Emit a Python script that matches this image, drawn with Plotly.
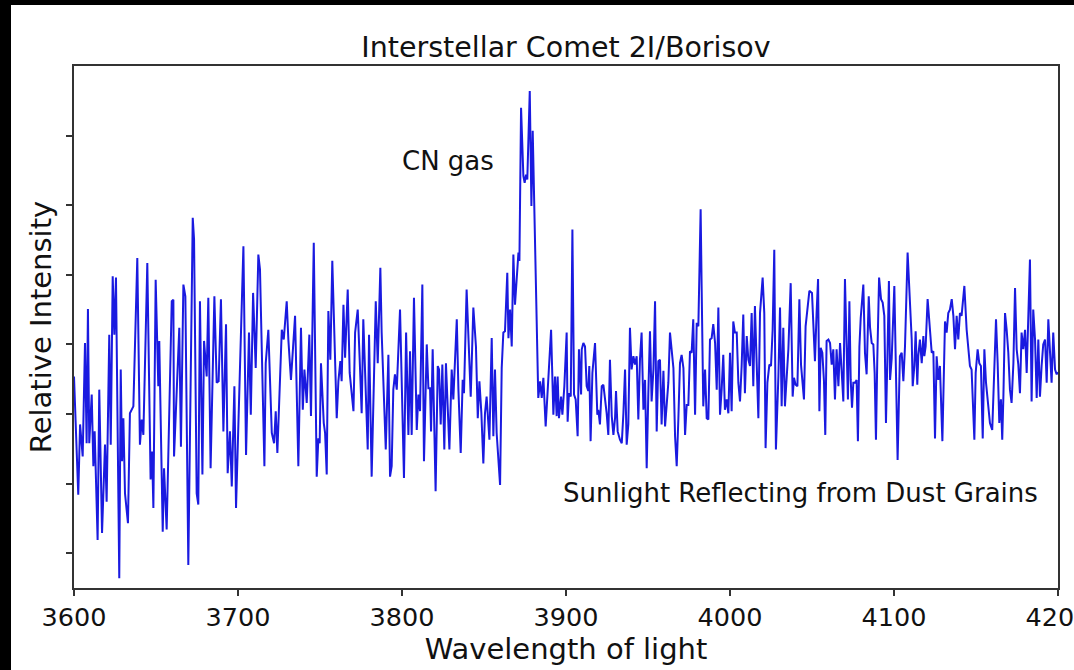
import plotly.graph_objects as go

# ---- data ----
wavelength = [
    3600.0, 3602.6, 3603.7, 3605.3, 3606.7, 3607.7, 3608.5, 3609.3, 3610.8, 3611.8,
    3612.6, 3614.4, 3615.4, 3617.1, 3618.9, 3619.9, 3621.5, 3622.4, 3623.6, 3624.6,
    3625.6, 3627.6, 3628.5, 3629.3, 3630.1, 3631.1, 3632.9, 3634.1, 3636.2, 3638.6,
    3640.2, 3641.3, 3642.3, 3644.7, 3646.7, 3647.6, 3648.4, 3649.8, 3651.4, 3652.0,
    3654.1, 3654.9, 3656.5, 3659.6, 3660.6, 3661.0, 3664.2, 3665.2, 3666.7, 3667.9,
    3669.7, 3672.4, 3673.2, 3674.8, 3675.8, 3676.8, 3678.3, 3679.3, 3680.9, 3681.9,
    3683.3, 3685.6, 3687.0, 3688.2, 3689.6, 3691.1, 3692.7, 3693.7,
    3695.1, 3696.2, 3697.8, 3698.8, 3703.3, 3704.9, 3706.7, 3707.8, 3709.2, 3710.8,
    3712.4, 3713.4, 3716.1, 3716.9, 3718.5, 3720.6, 3722.0, 3723.0, 3724.0, 3726.7,
    3727.9, 3729.7, 3730.7, 3732.3, 3734.8, 3736.8, 3738.4, 3739.5, 3740.5, 3741.9,
    3743.5, 3744.5, 3746.2, 3748.0, 3749.0, 3749.8, 3750.6, 3752.3, 3753.1, 3754.1,
    3755.1, 3756.3, 3757.5, 3758.8, 3760.2, 3761.2, 3762.4, 3763.2, 3764.3, 3765.3,
    3766.9, 3768.1, 3770.4, 3771.4, 3773.0, 3774.2, 3775.4, 3776.4, 3779.1, 3779.9,
    3781.5, 3784.0, 3785.2, 3786.8, 3787.6, 3790.1, 3791.7, 3792.7, 3793.7, 3794.7,
    3795.7, 3796.8, 3798.8, 3801.2, 3802.5, 3803.9, 3804.9, 3805.9, 3807.3, 3809.0,
    3810.0, 3811.0, 3812.4, 3813.4, 3815.1, 3816.1, 3817.1, 3817.7, 3818.7, 3820.5,
    3821.8, 3822.6, 3823.6, 3824.6, 3825.8, 3826.8, 3828.9, 3830.3, 3831.3, 3833.4,
    3834.4, 3835.8, 3837.0, 3837.8, 3839.4, 3841.9, 3843.5, 3845.1, 3846.2, 3847.2,
    3848.4, 3849.6, 3850.6, 3851.6, 3853.3, 3854.7, 3855.7, 3856.7, 3857.7, 3859.8,
    3860.8, 3861.8, 3862.8, 3864.2, 3864.9, 3865.9, 3866.9, 3867.9, 3868.9, 3871.0,
    3871.6, 3872.6, 3874.0, 3874.8, 3875.6, 3876.4, 3877.9, 3878.9, 3879.7, 3880.7,
    3883.1, 3884.2, 3885.2, 3886.2, 3887.6, 3890.9, 3892.3, 3893.3,
    3894.3, 3894.9, 3895.7, 3897.0, 3897.8, 3899.0, 3900.4, 3901.0, 3901.8, 3902.9,
    3903.9, 3904.9, 3905.9, 3907.1, 3907.9, 3909.2, 3909.6, 3910.6, 3911.6, 3912.6,
    3913.6, 3914.2, 3915.0, 3916.1, 3917.7, 3919.1, 3919.7, 3920.7, 3921.8, 3922.8,
    3923.8, 3924.8, 3925.8, 3926.8, 3927.9, 3928.9, 3929.9, 3930.5, 3931.5, 3932.9,
    3934.0, 3935.0, 3936.0, 3937.0, 3938.0, 3939.0, 3940.0, 3941.1, 3942.1, 3943.1,
    3944.1, 3945.1, 3946.1, 3947.2, 3948.2, 3949.2, 3950.2, 3951.2, 3952.2, 3953.3,
    3954.3, 3955.3, 3956.3, 3957.3, 3958.3, 3959.4, 3960.4, 3961.4, 3962.4, 3963.4,
    3964.4, 3965.5, 3966.5, 3967.5, 3968.5, 3969.5, 3970.5, 3971.6, 3972.6, 3973.6,
    3974.6, 3975.6, 3976.6, 3977.6, 3978.7, 3979.7, 3980.7, 3982.1, 3982.7, 3983.7,
    3984.8, 3985.8, 3986.8, 3987.8, 3988.8, 3989.8, 3990.9, 3991.9, 3992.9, 3993.9,
    3994.9, 3995.9,
    3996.9, 3998.0, 3999.0, 4000.0, 4001.0, 4002.0, 4003.0, 4004.1, 4005.1, 4006.1,
    4007.1, 4008.1, 4009.1, 4010.2, 4011.2, 4012.2, 4013.2, 4014.2, 4015.2, 4016.3,
    4017.3, 4018.3, 4019.9, 4020.9, 4021.7, 4022.8, 4024.0, 4025.0, 4026.0, 4027.0,
    4028.0, 4029.5, 4030.5, 4031.5, 4032.5, 4033.5, 4034.6, 4035.6, 4037.0, 4038.2,
    4039.0, 4040.0, 4041.1, 4042.3, 4043.3, 4044.3, 4045.1, 4046.1, 4047.2, 4048.4,
    4050.0, 4050.8, 4051.8, 4052.8, 4053.7, 4054.5, 4055.3, 4056.3, 4057.3, 4058.1,
    4058.9, 4060.0, 4061.0, 4062.0, 4063.0, 4064.0, 4065.0, 4066.1, 4067.1, 4068.1,
    4069.1, 4070.1, 4071.1, 4071.9, 4072.8, 4073.6, 4074.4, 4075.2, 4076.2, 4077.2,
    4078.0, 4078.9, 4079.7, 4081.3, 4082.3, 4083.3, 4084.6, 4085.4, 4086.4, 4087.4,
    4088.2, 4089.0, 4089.8, 4090.9, 4092.1, 4093.1, 4094.1, 4095.1, 4095.9, 4096.9,
    4097.6, 4098.6, 4100.2, 4102.2, 4103.6, 4104.7, 4105.7, 4106.7, 4108.3, 4109.7,
    4110.8, 4111.4, 4112.4, 4113.2, 4114.2, 4114.8, 4115.8, 4116.9, 4117.9, 4118.5,
    4119.3, 4120.5, 4121.9, 4123.0, 4124.0, 4125.0, 4126.0, 4127.0, 4128.0, 4129.5,
    4131.1, 4132.1, 4133.1, 4134.1, 4135.2, 4136.2, 4137.2, 4138.2, 4139.2, 4140.2,
    4141.2, 4142.9, 4144.3, 4145.3, 4146.3, 4147.3, 4149.0, 4149.8, 4151.0, 4152.0,
    4153.0, 4154.1, 4155.1, 4156.1, 4157.5, 4158.5, 4159.9, 4161.2, 4162.2, 4163.2,
    4164.2, 4165.2, 4166.0, 4166.7, 4167.7, 4168.7, 4169.7, 4170.7, 4171.7, 4172.8,
    4173.8, 4174.8, 4175.8, 4176.8, 4177.8, 4178.8, 4179.9, 4180.9, 4181.9, 4182.9,
    4183.9, 4184.9, 4186.0, 4187.0, 4188.0, 4189.0, 4190.0, 4191.0, 4192.1, 4193.1,
    4194.1, 4195.1, 4196.1, 4197.1, 4198.2, 4199.2, 4200.0,
]

intensity = [
    3.54, 1.84, 2.85, 2.39, 4.02, 2.58, 4.51, 2.58, 3.28, 2.25,
    2.75, 1.19, 3.35, 1.29, 2.56, 1.74, 4.14, 2.56, 4.98, 4.14,
    4.96, 0.64, 3.64, 2.32, 2.94, 1.86, 1.43, 3.01, 3.11, 5.24,
    2.56, 2.92, 2.70, 5.17, 2.06, 2.46, 1.65, 4.93, 3.40, 4.05,
    1.31, 2.22, 1.34, 4.62, 4.64, 2.39, 4.24, 2.53, 4.86, 4.69,
    0.83, 5.82, 5.51, 1.86, 1.70, 4.62, 2.13, 4.05, 3.54, 4.67,
    2.22, 4.69, 3.45, 3.47, 4.65, 2.75, 4.29, 2.15,
    2.75, 1.96, 3.40, 1.65, 5.41, 2.41, 4.17, 2.99, 4.74, 3.66,
    5.29, 5.08, 2.25, 3.73, 4.21, 2.73, 2.58, 3.04, 2.44, 4.21,
    4.07, 4.62, 4.07, 3.49, 4.41, 2.25, 4.24, 3.06, 3.64, 3.16,
    4.14, 2.97, 5.46, 2.10, 2.65, 2.58, 3.73, 2.87, 2.73, 2.13,
    4.48, 3.78, 5.20, 4.05, 2.94, 3.47, 3.76, 3.47, 4.57, 3.81,
    4.79, 3.59, 3.04, 4.17, 4.50, 3.78, 3.01, 4.36, 2.49, 4.14,
    2.10, 4.62, 3.73, 5.10, 4.17, 2.49, 3.85, 2.10, 2.25, 3.35,
    3.57, 3.35, 4.50, 2.08, 4.17, 2.70, 3.90, 2.70, 4.67, 2.77,
    3.28, 3.04, 4.86, 2.32, 4.00, 3.37, 3.37, 2.75, 3.93, 1.89,
    3.69, 3.64, 2.85, 3.71, 2.49, 3.73, 2.49, 3.64, 3.21, 4.36,
    3.35, 2.44, 3.49, 3.30, 4.79, 3.25, 4.53, 3.97, 2.94, 3.47,
    3.01, 2.29, 3.01, 3.25, 2.63, 4.09, 2.68, 3.64, 2.73, 1.98,
    3.66, 4.17, 4.19, 5.03, 4.09, 4.50, 3.97, 5.29, 4.57, 5.32,
    5.20, 7.40, 6.42, 6.32, 6.44, 6.37, 7.64, 5.99, 7.07, 5.94,
    3.23, 3.47, 3.23, 3.52, 2.82, 4.21, 2.99, 3.54,
    2.97, 3.54, 2.94, 3.25, 2.99, 3.40, 4.17, 2.89, 3.30, 3.25,
    5.65, 3.28, 3.21, 2.68, 3.93, 3.28, 3.93, 4.02, 3.97, 3.40,
    3.33, 3.69, 2.61, 3.59, 4.02, 2.99, 3.06, 2.85, 3.40, 3.42,
    3.25, 3.01, 2.70, 3.78, 2.97, 2.70, 2.94, 3.33, 2.75, 2.63,
    2.58, 3.01, 3.64, 2.56, 2.85, 4.24, 3.64, 3.83, 3.71, 3.83,
    2.92, 3.78, 4.17, 3.06, 3.49, 2.22, 3.30, 4.19, 3.18, 3.64,
    4.62, 2.75, 3.76, 3.78, 2.85, 3.62, 2.82, 3.21, 3.45, 4.17,
    3.97, 3.66, 2.68, 2.25, 2.92, 3.73, 3.85, 3.66, 2.70, 3.13,
    3.13, 3.90, 3.88, 4.36, 2.99, 4.31, 4.26, 5.94, 4.84, 3.11,
    3.64, 2.94, 2.92, 4.07, 4.09, 4.29, 4.02, 3.35, 4.53, 2.99,
    3.35, 3.85,
    3.06, 3.21, 3.01, 3.88, 3.04, 4.33, 4.17, 4.17, 3.45, 3.18,
    3.69, 4.43, 3.30, 4.12, 3.78, 3.69, 4.45, 3.40, 4.55, 3.73,
    2.94, 4.45, 4.96, 4.45, 2.51, 3.45, 3.71, 3.69, 4.21, 5.36,
    2.49, 3.54, 4.53, 3.11, 4.24, 3.11, 3.47, 3.93, 4.88, 3.25,
    3.52, 3.42, 3.40, 4.65, 3.71, 3.45, 3.21, 4.26, 4.55, 4.77,
    4.74, 4.36, 3.76, 4.45, 4.94, 3.04, 3.95, 3.88, 3.47, 2.70,
    4.05, 4.07, 4.02, 3.71, 3.93, 3.21, 3.93, 3.40, 4.02, 3.61,
    3.18, 4.94, 4.07, 3.21, 4.62, 3.49, 3.09, 3.45, 3.45, 3.49,
    2.61, 3.97, 4.38, 4.86, 3.88, 3.57, 4.69, 4.24, 4.02, 4.00,
    3.59, 2.63, 3.78, 4.96, 4.65, 4.60, 4.41, 2.87, 3.73, 4.91,
    3.49, 3.80, 4.84, 2.34, 3.83, 3.88, 3.47, 3.97, 5.32, 4.55,
    4.07, 3.40, 3.69, 4.19, 3.42, 3.83, 4.07, 3.73, 4.12, 3.83,
    3.97, 4.65, 4.17, 3.88, 3.90, 2.65, 3.83, 3.49, 3.69, 2.61,
    4.33, 4.17, 4.45, 4.50, 4.65, 4.41, 3.93, 4.41, 4.07, 4.45,
    4.41, 4.84, 4.21, 3.97, 3.69, 3.64, 2.63, 3.59, 3.93, 3.73,
    3.69, 2.65, 3.93, 3.45, 3.04, 2.87, 2.77, 3.64, 4.36, 3.73,
    2.87, 3.21, 2.63, 3.25, 4.45, 4.21, 3.88, 3.35, 3.16, 3.73,
    4.81, 3.93, 3.71, 3.30, 4.17, 3.93, 4.21, 3.59, 4.55, 5.22,
    3.18, 4.50, 4.07, 3.23, 4.07, 3.25, 3.69, 4.00, 4.07, 3.45,
    4.36, 3.83, 3.45, 4.17, 3.64, 3.57, 3.60,
]

x_ticks = [3600, 3700, 3800, 3900, 4000, 4100, 4200]
y_ticks = [1, 2, 3, 4, 5, 6, 7]

title_text = "Interstellar Comet 2I/Borisov"
x_label = "Wavelength of light"
y_label = "Relative Intensity"
labels = [("CN gas", 3828, 6.63), ("Sunlight Reflecting from Dust Grains", 4043, 1.87)]

# ---- layout ----
W, H = 1074, 670
L, R, T, B = 74, 16, 66, 82
pw, ph = W - L - R, H - T - B
FONT = "DejaVu Sans"
AX = "#333333"
TXT = "#111111"

fig = go.Figure()
fig.add_trace(go.Scatter(x=wavelength, y=intensity, mode="lines",
                         line=dict(color="#1a1ae0", width=2),
                         hoverinfo="x+y", showlegend=False))

for txt, xv, yv in labels:
    fig.add_annotation(x=xv, y=yv, text=txt, showarrow=False,
                       font=dict(family=FONT, size=26, color=TXT))

# black borders of the original screenshot (left 11 px, top 5 px)
fig.add_shape(type="rect", xref="paper", yref="paper",
              x0=-L / pw, x1=(11 - L) / pw, y0=-B / ph, y1=1 + T / ph,
              fillcolor="black", line=dict(width=0), layer="above")
fig.add_shape(type="rect", xref="paper", yref="paper",
              x0=-L / pw, x1=1 + R / pw, y0=1 + (T - 5) / ph, y1=1 + T / ph,
              fillcolor="black", line=dict(width=0), layer="above")

fig.update_layout(
    width=W, height=H,
    margin=dict(l=L, r=R, t=T, b=B, autoexpand=False),
    paper_bgcolor="white", plot_bgcolor="white",
    font=dict(family=FONT, color=TXT),
    title=dict(text=title_text, x=0.5, xref="paper", y=1 - 47 / H, yref="container",
               xanchor="center", yanchor="middle",
               font=dict(family=FONT, size=28.5, color=TXT)),
    xaxis=dict(range=[3600, 4200], tickvals=x_ticks, ticktext=[str(v) for v in x_ticks],
               showgrid=False, zeroline=False, showline=True, mirror=True,
               linecolor=AX, linewidth=1.6, ticks="outside", ticklen=6, tickwidth=1.5,
               tickcolor=AX, tickfont=dict(family=FONT, size=25.5, color=TXT),
               ticklabeloverflow="allow",
               title=dict(text=x_label, font=dict(family=FONT, size=29, color=TXT),
                          standoff=3),
               automargin=False),
    yaxis=dict(range=[0.5, 8.0], tickvals=y_ticks, showticklabels=False,
               showgrid=False, zeroline=False, showline=True, mirror=True,
               linecolor=AX, linewidth=1.6, ticks="outside", ticklen=6, tickwidth=1.5,
               tickcolor=AX,
               title=dict(text=y_label, font=dict(family=FONT, size=29, color=TXT),
                          standoff=6),
               automargin=False),
)

# the page's default 8 px body margin would shift the figure; remove it
fig.write_html("out.html",
               config={"displayModeBar": False},
               post_script="document.body.style.margin='0px';document.body.style.background='white';")
